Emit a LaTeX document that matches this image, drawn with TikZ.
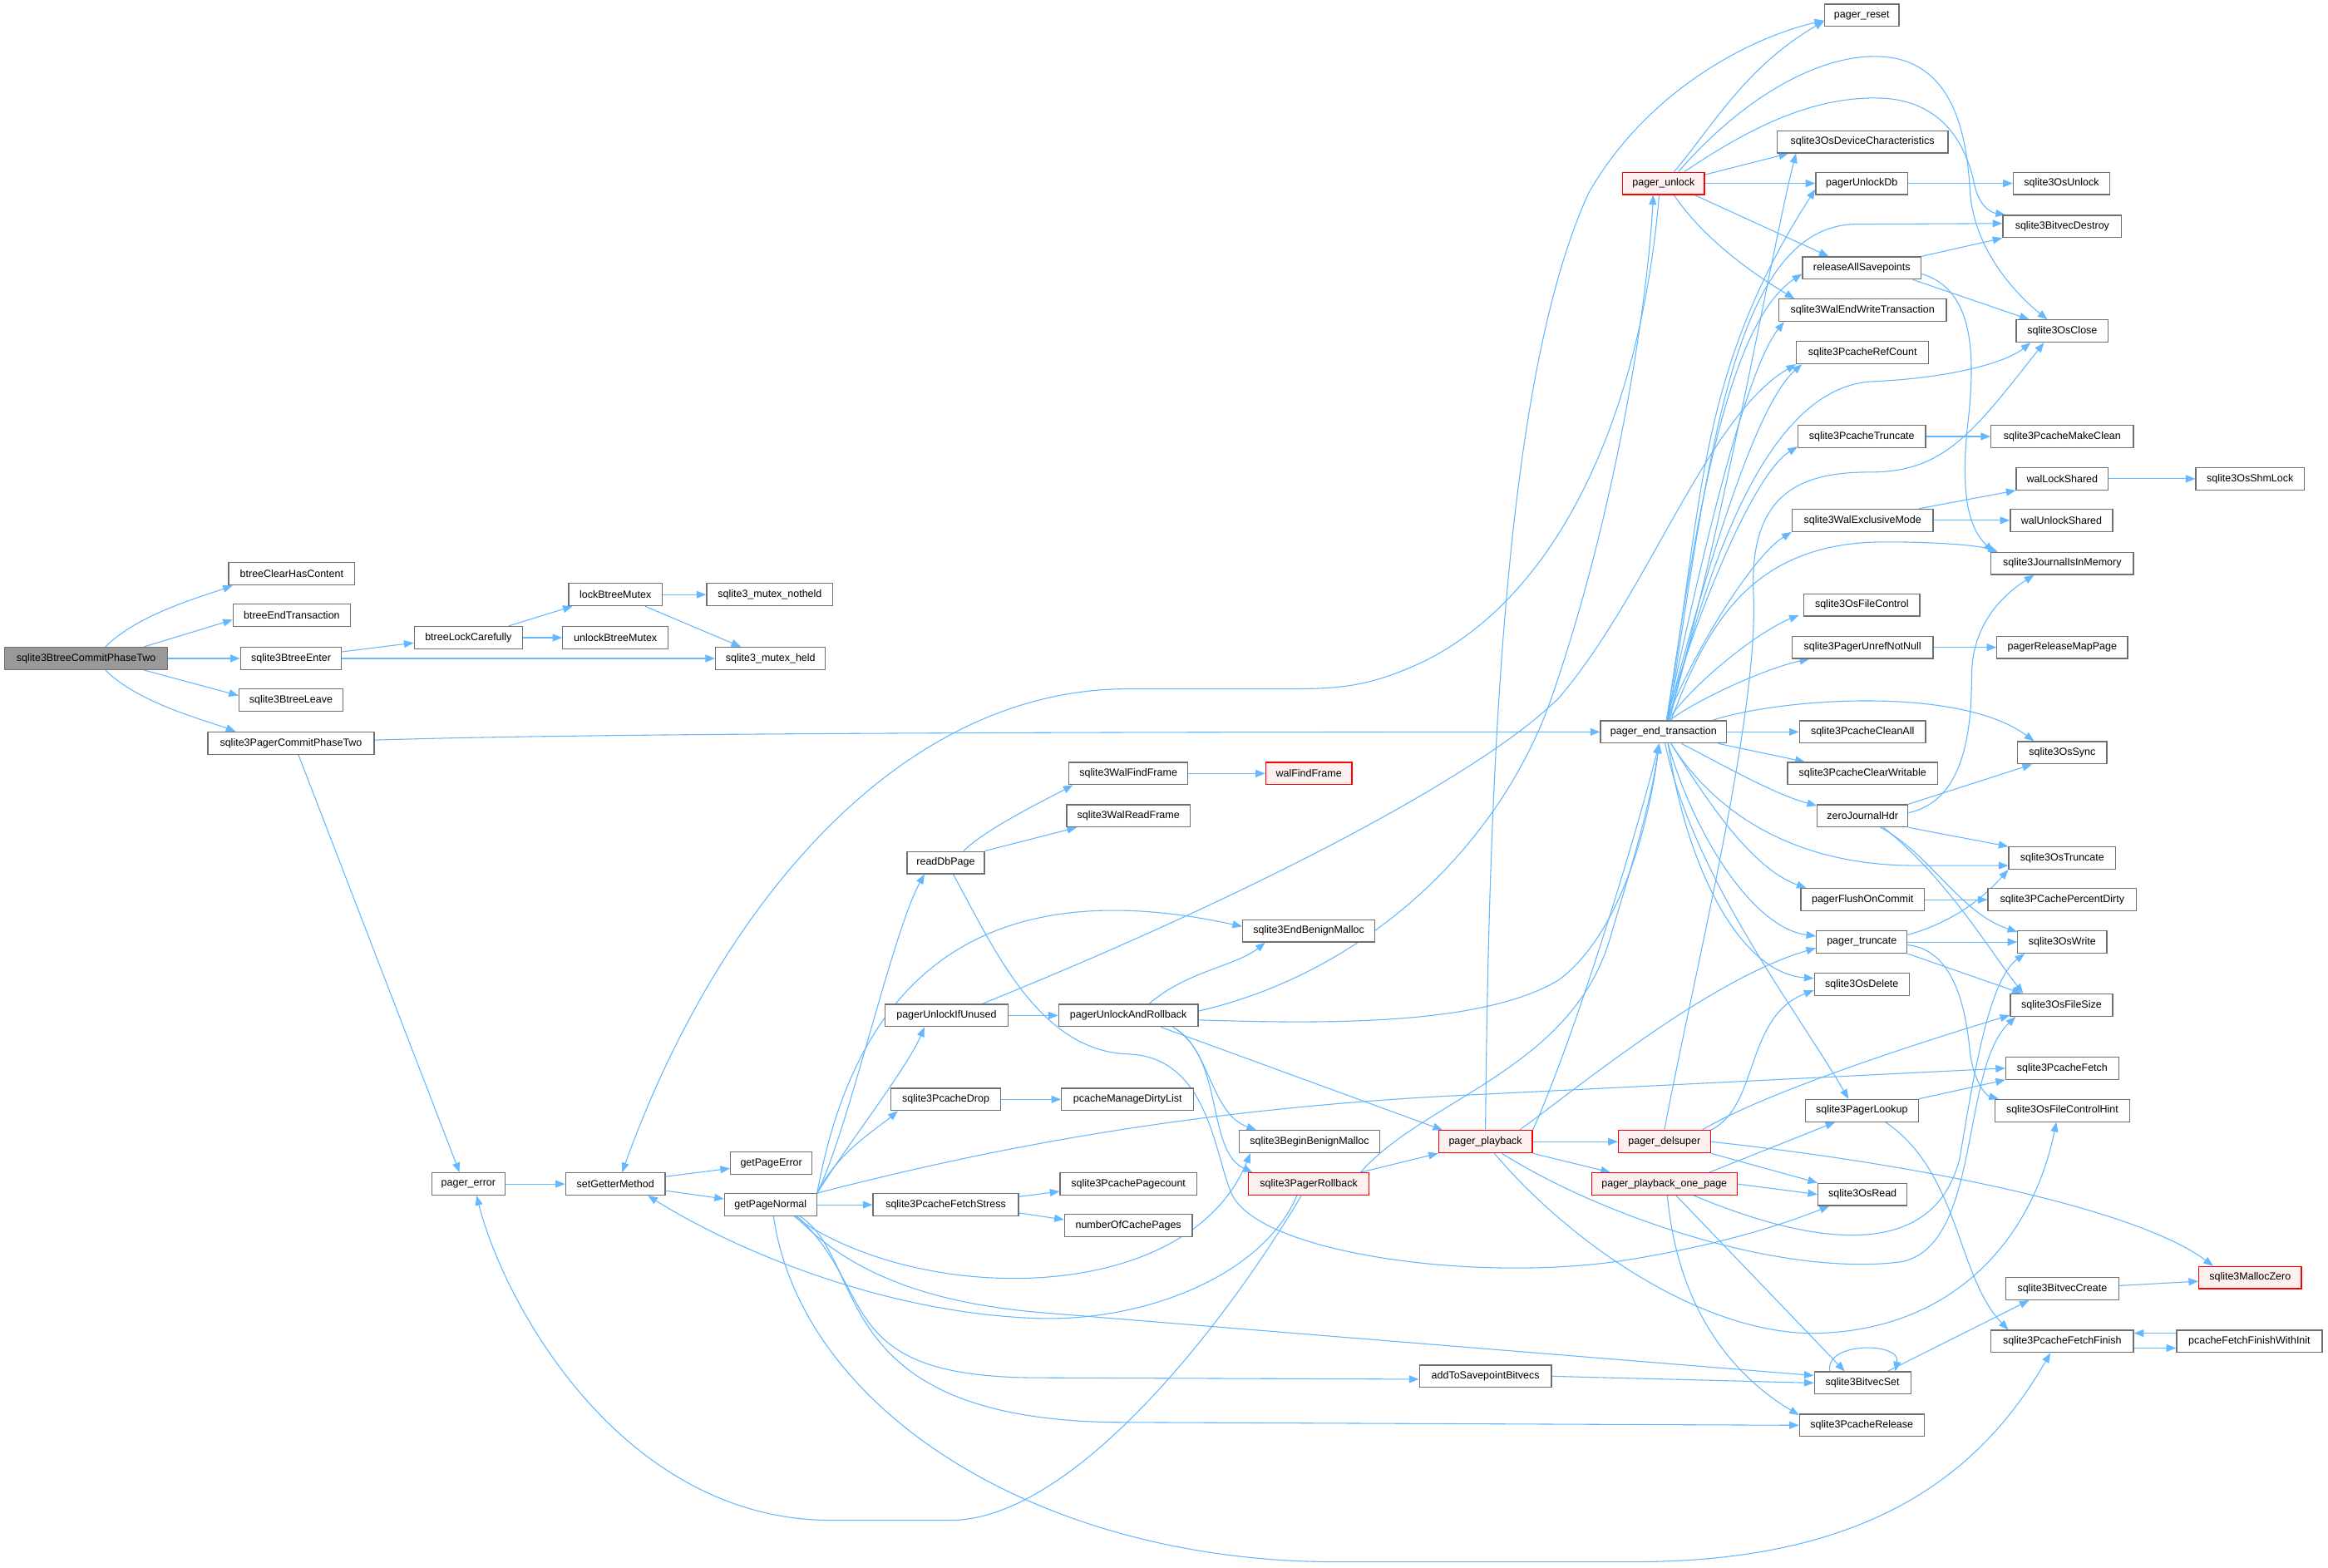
\documentclass[tikz,border=0pt]{standalone}
\usepackage{fontspec}
\setmainfont{Liberation Sans}
\usetikzlibrary{arrows.meta,calc,backgrounds}
\definecolor{edgeblue}{HTML}{63B8FF}
\definecolor{nodegray}{HTML}{707070}
\definecolor{rootgray}{HTML}{999999}
\definecolor{redfill}{HTML}{FFF0F0}
\definecolor{redline}{HTML}{FF0000}
\begin{document}
\begin{tikzpicture}[x=1pt,y=-1pt,
 fnode/.style={draw=nodegray, fill=white, line width=0.7pt, minimum height=15pt, inner sep=0pt, font=\fontsize{7pt}{8pt}\selectfont},
 rnode/.style={fnode, fill=rootgray},
 tnode/.style={fnode, draw=redline, fill=redfill},
 edg/.style={draw=edgeblue, line width=0.6pt, -{Triangle[length=6.5pt,width=5pt]}},
]
\useasboundingbox (0,0) rectangle (1568,1055.6);
% ---------- nodes ----------
\node[rnode, minimum width=110] (root) at (58,443.5) {sqlite3BtreeCommitPhaseTwo};
\node[fnode, minimum width=85] (bch) at (196.5,386.5) {btreeClearHasContent};
\node[fnode, minimum width=79] (bet) at (196.5,414.5) {btreeEndTransaction};
\node[fnode, minimum width=68] (bte) at (196,443.5) {sqlite3BtreeEnter};
\node[fnode, minimum width=70] (btl) at (196,471.5) {sqlite3BtreeLeave};
\node[fnode, minimum width=112] (pcpt) at (196,500.5) {sqlite3PagerCommitPhaseTwo};
\node[fnode, minimum width=73] (blc) at (315.5,429.5) {btreeLockCarefully};
\node[fnode, minimum width=49] (perr) at (315.5,797.5) {pager\_error};
\node[fnode, minimum width=63] (lbm) at (414.5,400.5) {lockBtreeMutex};
\node[fnode, minimum width=71] (ulbm) at (414.5,429.5) {unlockBtreeMutex};
\node[fnode, minimum width=67] (sgm) at (414.5,797.5) {setGetterMethod};
\node[fnode, minimum width=85] (mnh) at (518.5,400.5) {sqlite3\_mutex\_notheld};
\node[fnode, minimum width=74] (mheld) at (519,443.5) {sqlite3\_mutex\_held};
\node[fnode, minimum width=55] (gpe) at (519.5,783.5) {getPageError};
\node[fnode, minimum width=62] (gpn) at (519,811.5) {getPageNormal};
\node[fnode, minimum width=52] (rdp) at (637,581) {readDbPage};
\node[fnode, minimum width=83] (puiu) at (637.5,684) {pagerUnlockIfUnused};
\node[fnode, minimum width=74] (pcd) at (637,740.5) {sqlite3PcacheDrop};
\node[fnode, minimum width=98] (pcfs) at (637,811.5) {sqlite3PcacheFetchStress};
\node[fnode, minimum width=80] (wff) at (760,521) {sqlite3WalFindFrame};
\node[fnode, minimum width=83] (wrf) at (760,549.5) {sqlite3WalReadFrame};
\node[fnode, minimum width=94] (paur) at (760,684) {pagerUnlockAndRollback};
\node[fnode, minimum width=89] (pcmdl) at (759.5,740.5) {pcacheManageDirtyList};
\node[fnode, minimum width=92] (pcpc) at (760,797.5) {sqlite3PcachePagecount};
\node[fnode, minimum width=86] (ncp) at (760,825.5) {numberOfCachePages};
\node[tnode, minimum width=58] (wfind) at (881.5,521) {walFindFrame};
\node[fnode, minimum width=89] (ebm) at (881.5,627) {sqlite3EndBenignMalloc};
\node[fnode, minimum width=95] (bbm) at (882,769) {sqlite3BeginBenignMalloc};
\node[tnode, minimum width=81] (spr) at (881.5,797.5) {sqlite3PagerRollback};
\node[tnode, minimum width=63] (ppb) at (1000.5,769) {pager\_playback};
\node[fnode, minimum width=89] (atsb) at (1000.5,927) {addToSavepointBitvecs};
\node[tnode, minimum width=55] (punl) at (1120.5,123.5) {pager\_unlock};
\node[fnode, minimum width=85] (pet) at (1120.5,493) {pager\_end\_transaction};
\node[tnode, minimum width=62] (pds) at (1121,769) {pager\_delsuper};
\node[tnode, minimum width=98] (pbop) at (1121,797.5) {pager\_playback\_one\_page};
\node[fnode, minimum width=50] (prs) at (1254,10.3) {pager\_reset};
\node[fnode, minimum width=115] (osdc) at (1254.5,95.5) {sqlite3OsDeviceCharacteristics};
\node[fnode, minimum width=62] (pudb) at (1254,123.5) {pagerUnlockDb};
\node[fnode, minimum width=80] (ras) at (1254,180.5) {releaseAllSavepoints};
\node[fnode, minimum width=113] (wewt) at (1254.5,209) {sqlite3WalEndWriteTransaction};
\node[fnode, minimum width=89] (refc) at (1254.5,237.5) {sqlite3PcacheRefCount};
\node[fnode, minimum width=86] (pct) at (1254,294) {sqlite3PcacheTruncate};
\node[fnode, minimum width=95] (wem) at (1254.5,350.5) {sqlite3WalExclusiveMode};
\node[fnode, minimum width=78] (osfc) at (1254,407.5) {sqlite3OsFileControl};
\node[fnode, minimum width=95] (pun) at (1254.5,436) {sqlite3PagerUnrefNotNull};
\node[fnode, minimum width=85] (pcca) at (1254.5,493) {sqlite3PcacheCleanAll};
\node[fnode, minimum width=101] (pccw) at (1254.5,521) {sqlite3PcacheClearWritable};
\node[fnode, minimum width=61] (zjh) at (1254.5,549.5) {zeroJournalHdr};
\node[fnode, minimum width=83] (pfoc) at (1254.5,606) {pagerFlushOnCommit};
\node[fnode, minimum width=61] (ptr) at (1254,634.5) {pager\_truncate};
\node[fnode, minimum width=64] (osd) at (1254,663) {sqlite3OsDelete};
\node[fnode, minimum width=76] (plk) at (1254,748) {sqlite3PagerLookup};
\node[fnode, minimum width=60] (osr) at (1254.5,804.5) {sqlite3OsRead};
\node[fnode, minimum width=65] (bvs) at (1254.5,931.5) {sqlite3BitvecSet};
\node[fnode, minimum width=84] (pcr) at (1254,960) {sqlite3PcacheRelease};
\node[fnode, minimum width=65] (osu) at (1388.5,123.5) {sqlite3OsUnlock};
\node[fnode, minimum width=80] (bvd) at (1389,152.5) {sqlite3BitvecDestroy};
\node[fnode, minimum width=62] (osc) at (1389,223) {sqlite3OsClose};
\node[fnode, minimum width=96] (pcmc) at (1389,294) {sqlite3PcacheMakeClean};
\node[fnode, minimum width=62] (wls) at (1389,322.5) {walLockShared};
\node[fnode, minimum width=69] (wus) at (1388.5,350.5) {walUnlockShared};
\node[fnode, minimum width=96] (jim) at (1389,379.5) {sqlite3JournalIsInMemory};
\node[fnode, minimum width=88] (prmp) at (1389,436) {pagerReleaseMapPage};
\node[fnode, minimum width=60] (ossync) at (1389,507) {sqlite3OsSync};
\node[fnode, minimum width=72] (ostr) at (1389,578) {sqlite3OsTruncate};
\node[fnode, minimum width=100] (pcpd) at (1389,606) {sqlite3PCachePercentDirty};
\node[fnode, minimum width=60] (osw) at (1389,634.5) {sqlite3OsWrite};
\node[fnode, minimum width=69] (osfs) at (1388.5,677) {sqlite3OsFileSize};
\node[fnode, minimum width=76] (pcf) at (1389,719.5) {sqlite3PcacheFetch};
\node[fnode, minimum width=91] (osfch) at (1389,748) {sqlite3OsFileControlHint};
\node[fnode, minimum width=76] (bvc) at (1389,868) {sqlite3BitvecCreate};
\node[fnode, minimum width=96] (pcff) at (1389,903.5) {sqlite3PcacheFetchFinish};
\node[fnode, minimum width=73] (shm) at (1515.5,322.5) {sqlite3OsShmLock};
\node[tnode, minimum width=69] (mz) at (1515.5,860.5) {sqlite3MallocZero};
\node[fnode, minimum width=98] (pcffwi) at (1515,903.5) {pcacheFetchFinishWithInit};
% ---------- edges ----------
\begin{pgfonlayer}{background}
\fill[white] (0,0) rectangle (1568,1055.6);
% left part
\draw[edg] ($(root.north)+(13,0)$) .. controls +(22,-22) and +(-22,8) .. ($(bch.south west)+(3,0)$);
\draw[edg] ($(root.north)+(39,0)$) -- ($(bet.west)+(0,3)$);
\draw[edg] (root.east) -- (bte.west);
\draw[edg] ($(root.south)+(39,0)$) -- ($(btl.west)+(0,-3)$);
\draw[edg] ($(root.south)+(13,0)$) .. controls +(22,22) and +(-22,-8) .. ($(pcpt.north west)+(19,0)$);
\draw[edg] ($(bte.east)+(0,-4.5)$) -- ($(blc.west)+(0,3.5)$);
\draw[edg] (bte.east) -- (mheld.west);
\draw[edg] ($(blc.north)+(27,0)$) -- ($(lbm.south west)+(3,0)$);
\draw[edg] (blc.east) -- (ulbm.west);
\draw[edg] (lbm.east) -- (mnh.west);
\draw[edg] ($(lbm.south)+(20,0)$) -- ($(mheld.north)+(-20,0)$);
\draw[edg] ($(pcpt.east)+(0,-2)$) .. controls +(150,-5) and +(-300,0) .. (pet.west);
\draw[edg] ($(pcpt.south)+(5,0)$) -- ($(perr.north)+(-6,0)$);
\draw[edg] (perr.east) -- (sgm.west);
\draw[edg] ($(sgm.east)+(0,-5)$) -- ($(gpe.west)+(0,3.5)$);
\draw[edg] ($(sgm.east)+(0,4.5)$) -- ($(gpn.west)+(0,-4)$);
\draw[edg] ($(punl.south)+(-3,0)$) .. controls (1105,280) and (1050,400) .. (960,445) .. controls (920,464) and (900,464) .. (860,464) -- (760,464) .. controls (600,464) and (480,620) .. ($(sgm.north)+(4.5,0)$);
% getPageNormal
\draw[edg] (gpn.north east) .. controls +(22,-45) and +(-22,40) .. ($(rdp.south west)+(12,0)$);
\draw[edg] (gpn.north east) .. controls (580,640) and (680,590) .. ($(ebm.west)+(0,-3)$);
\draw[edg] (gpn.north east) .. controls +(22,-35) and +(-12,28) .. ($(puiu.south west)+(27,0)$);
\draw[edg] (gpn.north east) .. controls +(14,-28) and +(-14,12) .. ($(pcd.south west)+(5,0)$);
\draw[edg] (gpn.east) -- (pcfs.west);
\draw[edg] (gpn.north east) .. controls (680,770) and (820,745) .. (1000,737) -- (pcf.west);
\draw[edg] ($(gpn.south)+(16,0)$) .. controls (620,880) and (800,880) .. ($(bbm.south west)+(8,0)$);
\draw[edg] ($(gpn.south)+(17,0)$) .. controls (570,855) and (620,877) .. (700,884) -- ($(bvs.west)+(0,-5)$);
\draw[edg] ($(gpn.south)+(18,0)$) .. controls (592,870) and (560,928) .. (700,928) -- ($(atsb.west)+(0,2)$);
\draw[edg] ($(gpn.south)+(20,0)$) .. controls (585,850) and (555,955) .. (750,958) -- (pcr.west);
\draw[edg] ($(gpn.south)+(2,0)$) .. controls (540,950) and (700,1052) .. (900,1052) -- (1100,1052) .. controls (1250,1052) and (1330,1000) .. ($(pcff.south)+(-8,0)$);
% sqlite3PagerRollback back edges
\draw[edg] ($(spr.south)+(-5,0)$) .. controls (820,900) and (720,1024) .. (640,1024) -- (560,1024) .. controls (420,1024) and (340,880) .. ($(perr.south)+(5.5,0)$);
\draw[edg] ($(spr.south)+(-8,0)$) .. controls (850,860) and (770,890) .. (700,888) .. controls (600,885) and (500,845) .. ($(sgm.south east)+(-12,0)$);
% readDbPage
\draw[edg] ($(rdp.north)+(12,0)$) .. controls +(15,-15) and +(-15,8) .. ($(wff.south west)+(3,0)$);
\draw[edg] (rdp.north east) -- ($(wrf.south west)+(7,0)$);
\draw[edg] ($(rdp.south)+(5,0)$) .. controls (670,640) and (700,708) .. (760,710) .. controls (815,712) and (818,780) .. (830,805) .. controls (850,845) and (1000,865) .. (1100,848) .. controls (1160,838) and (1200,825) .. ($(osr.south west)+(8,0)$);
\draw[edg] (wff.east) -- (wfind.west);
% pagerUnlockIfUnused / pagerUnlockAndRollback
\draw[edg] (puiu.east) -- (paur.west);
\draw[edg] ($(puiu.north)+(24,0)$) .. controls (850,600) and (1000,520) .. (1050,470) .. controls (1110,400) and (1150,280) .. (refc.south west);
\draw[edg] ($(paur.north)+(14,0)$) .. controls +(25,-22) and +(-20,16) .. ($(ebm.south west)+(15.5,0)$);
\draw[edg] ($(paur.south)+(30,0)$) .. controls (815,705) and (815,750) .. ($(bbm.north west)+(12,0)$);
\draw[edg] ($(paur.south)+(30,0)$) .. controls (825,712) and (812,775) .. ($(spr.north west)+(3,0)$);
\draw[edg] ($(paur.south)+(22,0)$) -- ($(ppb.north west)+(3,0)$);
\draw[edg] ($(paur.east)+(0,3)$) .. controls (900,690) and (1000,690) .. (1050,660) .. controls (1090,630) and (1110,560) .. ($(pet.south)+(-3,0)$);
\draw[edg] ($(paur.east)+(0,-3)$) .. controls (920,655) and (1010,570) .. (1045,470) .. controls (1090,340) and (1110,200) .. ($(punl.south)+(-7,0)$);
\draw[edg] (pcd.east) -- (pcmdl.west);
\draw[edg] ($(pcfs.east)+(0,-5.5)$) -- ($(pcpc.west)+(0,5)$);
\draw[edg] ($(pcfs.east)+(0,5.5)$) -- ($(ncp.west)+(0,-4)$);
% sqlite3PagerRollback / pager_playback
\draw[edg] ($(spr.north east)+(-6,0)$) -- (ppb.south west);
\draw[edg] ($(spr.north east)+(-6,0)$) .. controls (960,740) and (1060,720) .. (1085,630) .. controls (1100,580) and (1112,540) .. ($(pet.south)+(-3,0)$);
\draw[edg] ($(ppb.north east)+(-9,0)$) .. controls (1060,735) and (1150,660) .. ($(ptr.west)+(0,4)$);
\draw[edg] (ppb.north east) .. controls (1060,700) and (1100,570) .. ($(pet.south)+(-3,0)$);
\draw[edg] (ppb.north) .. controls (1003,500) and (1015,250) .. (1070,130) .. controls (1110,60) and (1180,25) .. ($(prs.west)+(0,3.5)$);
\draw[edg] (ppb.east) -- (pds.west);
\draw[edg] (ppb.south east) -- ($(pbop.north west)+(13,0)$);
\draw[edg] ($(ppb.south)+(6,0)$) .. controls (1060,840) and (1150,900) .. (1225,898) .. controls (1320,895) and (1370,830) .. ($(osfch.south)+(-4,0)$);
\draw[edg] ($(ppb.south)+(11,0)$) .. controls (1080,820) and (1200,860) .. (1280,850) .. controls (1335,840) and (1320,720) .. ($(osfs.south west)+(4,0)$);
% pager_delsuper
\draw[edg] (pds.north east) .. controls (1185,745) and (1175,685) .. ($(osd.west)+(0,4)$);
\draw[edg] ($(pds.north east)+(-6,0)$) .. controls (1190,735) and (1300,700) .. ($(osfs.south west)+(0,-1)$);
\draw[edg] (pds.south east) -- (osr.north west);
\draw[edg] (pds.east) .. controls (1300,785) and (1440,815) .. ($(mz.north west)+(10,0)$);
\draw[edg] (pds.north) .. controls (1140,660) and (1185,480) .. (1181,400) .. controls (1178,330) and (1215,318) .. (1260,318) .. controls (1310,318) and (1330,290) .. ($(osc.south west)+(19,0)$);
% pager_playback_one_page
\draw[edg] (pbop.east) -- (osr.west);
\draw[edg] ($(pbop.north east)+(-19,0)$) -- ($(plk.south)+(-18,0)$);
\draw[edg] ($(pbop.south)+(8,0)$) -- ($(bvs.north)+(-12,0)$);
\draw[edg] ($(pbop.south)+(2,0)$) .. controls (1130,880) and (1165,925) .. ($(pcr.north west)+(0,1)$);
\draw[edg] ($(pbop.south)+(20,0)$) .. controls (1200,830) and (1300,860) .. (1320,780) .. controls (1330,720) and (1340,660) .. ($(osw.south west)+(5,0)$);
% sqlite3PagerLookup
\draw[edg] (plk.north east) -- (pcf.south west);
\draw[edg] ($(plk.south)+(16,0)$) .. controls (1320,790) and (1318,860) .. ($(pcff.north west)+(12,0)$);
% bitvec
\draw[edg] ($(bvs.north)+(-22,0)$) .. controls +(-4,-20) and +(4,-20) .. ($(bvs.north)+(22,0)$);
\draw[edg] ($(bvs.north east)+(-16,0)$) -- ($(bvc.south west)+(16,0)$);
\draw[edg] (atsb.east) -- (bvs.west);
\draw[edg] ($(bvc.east)+(0,-2)$) -- ($(mz.west)+(0,2.5)$);
\draw[edg] ($(pcffwi.west)+(0,-5.5)$) -- ($(pcff.east)+(0,-5.5)$);
\draw[edg] ($(pcff.east)+(0,4.5)$) -- ($(pcffwi.west)+(0,4.5)$);
% pager_unlock
\draw[edg] ($(punl.north)+(7,0)$) .. controls (1150,90) and (1175,45) .. ($(prs.west)+(0,4)$);
\draw[edg] ($(punl.north)+(10,0)$) .. controls (1170,70) and (1220,38) .. (1263,38) .. controls (1320,38) and (1325,100) .. (1327,130) .. controls (1330,170) and (1360,200) .. ($(osc.north)+(-10,0)$);
\draw[edg] ($(punl.north)+(14,0)$) .. controls (1180,85) and (1220,66) .. (1263,66) .. controls (1310,66) and (1325,100) .. (1330,125) .. controls (1333,138) and (1340,143) .. ($(bvd.north west)+(2,0)$);
\draw[edg] ($(punl.north east)+(0,2)$) -- ($(osdc.south west)+(8,0)$);
\draw[edg] (punl.east) -- (pudb.west);
\draw[edg] ($(punl.south east)+(-7,0)$) -- ($(ras.north west)+(18,0)$);
\draw[edg] ($(punl.south)+(7,0)$) .. controls (1150,165) and (1190,190) .. ($(wewt.north west)+(11,0)$);
\draw[edg] (pudb.east) -- (osu.west);
\draw[edg] (ras.north east) -- (bvd.south west);
\draw[edg] ($(ras.south east)+(-6,0)$) -- ($(osc.north west)+(9,0)$);
\draw[edg] ($(ras.east)+(0,4)$) .. controls (1330,195) and (1330,240) .. (1326,280) .. controls (1320,330) and (1325,355) .. ($(jim.north west)+(2,0)$);
% pager_end_transaction fan
\draw[edg] ($(pet.north)+(3,0)$) .. controls (1160,360) and (1195,160) .. ($(osdc.south west)+(13,0)$);
\draw[edg] ($(pet.north)+(2,0)$) .. controls (1147,341) and (1142,253) .. ($(pudb.west)+(0,4)$);
\draw[edg] ($(pet.north)+(2,0)$) .. controls (1140,370) and (1160,220) .. ($(ras.west)+(0,4)$);
\draw[edg] ($(pet.north)+(2,0)$) .. controls (1145,380) and (1175,250) .. ($(wewt.south west)+(4,0)$);
\draw[edg] ($(pet.north)+(2,0)$) .. controls (1145,400) and (1180,275) .. ($(refc.south west)+(4,0)$);
\draw[edg] ($(pet.north)+(3,0)$) .. controls (1150,320) and (1165,152) .. (1250,151) -- ($(bvd.west)+(0,-2)$);
\draw[edg] ($(pet.north)+(4,0)$) .. controls (1150,380) and (1190,262) .. (1260,257) .. controls (1310,255) and (1350,245) .. ($(osc.south west)+(10,0)$);
\draw[edg] ($(pet.north)+(2,0)$) .. controls (1140,420) and (1180,320) .. ($(pct.south west)+(0,-1)$);
\draw[edg] ($(pet.north)+(2,0)$) .. controls (1140,440) and (1180,375) .. (wem.south west);
\draw[edg] ($(pet.north)+(5,0)$) .. controls (1150,420) and (1180,365) .. (1270,365) .. controls (1310,365) and (1335,368) .. ($(jim.north west)+(5,0)$);
\draw[edg] ($(pet.north)+(3,0)$) .. controls (1140,460) and (1185,425) .. ($(osfc.south west)+(-3,-1)$);
\draw[edg] ($(pet.north)+(4,0)$) .. controls (1145,470) and (1190,450) .. ($(pun.south west)+(12,0)$);
\draw[edg] ($(pet.north east)+(-10,0)$) .. controls (1200,470) and (1320,462) .. ($(ossync.north)+(-19,0)$);
\draw[edg] (pet.east) -- (pcca.west);
\draw[edg] ($(pet.south east)+(-6,0)$) -- ($(pccw.north west)+(12,0)$);
\draw[edg] ($(pet.south)+(12,0)$) .. controls (1160,515) and (1195,535) .. ($(zjh.north west)+(0,1)$);
\draw[edg] ($(pet.south)+(5,0)$) .. controls (1150,540) and (1200,583) .. (1290,583) -- ($(ostr.west)+(0,5)$);
\draw[edg] ($(pet.south)+(5,0)$) .. controls (1150,540) and (1180,585) .. ($(pfoc.north west)+(4,0)$);
\draw[edg] ($(pet.south)+(3,0)$) .. controls (1140,560) and (1180,625) .. ($(ptr.west)+(0,-4)$);
\draw[edg] ($(pet.south)+(3,0)$) .. controls (1135,580) and (1170,655) .. ($(osd.west)+(0,-4)$);
\draw[edg] ($(pet.south)+(1,0)$) .. controls (1140,590) and (1210,680) .. ($(plk.north)+(-9,0)$);
% zeroJournalHdr etc.
\draw[edg] (zjh.north east) -- ($(ossync.south west)+(10,0)$);
\draw[edg] ($(zjh.east)+(0,-2)$) .. controls (1320,540) and (1328,500) .. (1328,455) .. controls (1328,420) and (1350,400) .. ($(jim.south)+(-19,0)$);
\draw[edg] (zjh.south east) -- (ostr.north west);
\draw[edg] ($(zjh.south)+(12,0)$) .. controls (1300,575) and (1320,615) .. ($(osw.north west)+(0,1)$);
\draw[edg] ($(zjh.south)+(14,0)$) .. controls (1310,590) and (1340,640) .. ($(osfs.north west)+(9,0)$);
\draw[edg] (pfoc.east) -- (pcpd.west);
\draw[edg] ($(ptr.north east)+(0,3)$) .. controls (1320,620) and (1340,600) .. (ostr.south west);
\draw[edg] (ptr.east) -- (osw.west);
\draw[edg] (ptr.south east) -- ($(osfs.north west)+(8,0)$);
\draw[edg] ($(ptr.east)+(0,2)$) .. controls (1320,640) and (1325,690) .. (1327,710) .. controls (1330,730) and (1338,738) .. ($(osfch.north west)+(3,0)$);
\draw[edg] (pct.east) -- (pcmc.west);
\draw[edg] ($(wem.north east)+(-10,0)$) -- (wls.south west);
\draw[edg] (wem.east) -- (wus.west);
\draw[edg] (wls.east) -- (shm.west);
\draw[edg] (pun.east) -- (prmp.west);
\end{pgfonlayer}
\end{tikzpicture}
\end{document}
